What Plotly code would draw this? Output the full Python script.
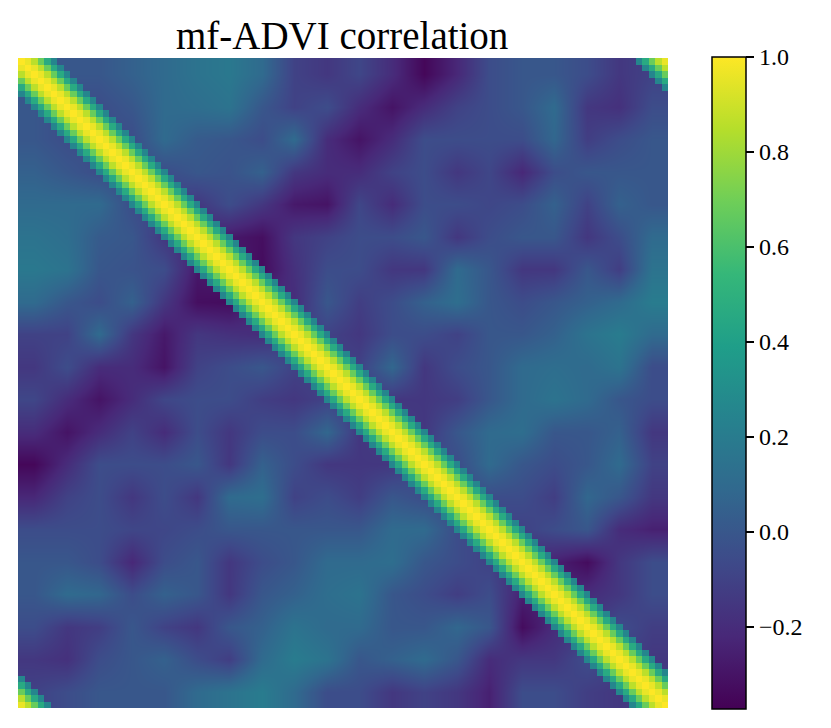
import numpy as np
import plotly.graph_objects as go

# matrix size (100 latent dims) and coarse grid of the smooth background
n_dim = 100
n_coarse = 20

# background correlation on a 20x20 grid
# (upper triangle incl. diagonal, row r holds columns r..19)
upper_rows = [
    [0.0, 0.0, 0.0, 0.05, 0.1, 0.15, 0.18, 0.1, -0.1, -0.15, -0.08, -0.2, -0.35, -0.22, -0.05, 0.0, 0.0, -0.05, -0.15, -0.1],
    [-0.05, -0.05, 0.0, 0.1, 0.12, 0.15, 0.0, -0.1, -0.05, -0.2, -0.3, -0.2, -0.1, -0.05, 0.0, 0.1, -0.15, -0.18, -0.05],
    [-0.05, -0.05, 0.1, 0.02, 0.0, -0.05, 0.1, -0.2, -0.3, -0.2, -0.05, -0.05, -0.05, -0.05, 0.08, -0.12, -0.05, 0.0],
    [-0.05, -0.05, 0.0, -0.02, 0.05, -0.15, -0.2, -0.2, -0.1, -0.05, -0.15, -0.08, -0.22, -0.05, 0.0, 0.0, 0.0],
    [-0.1, -0.15, -0.05, -0.15, -0.28, -0.3, -0.08, -0.2, -0.05, -0.05, -0.08, -0.05, 0.05, -0.1, 0.05, 0.0],
    [-0.2, -0.28, -0.32, -0.15, -0.1, -0.05, -0.05, 0.0, -0.15, -0.05, 0.0, 0.0, -0.15, -0.05, 0.1],
    [-0.25, -0.33, -0.18, -0.05, -0.05, -0.15, -0.15, 0.1, 0.0, -0.15, -0.15, 0.0, -0.12, 0.15],
    [-0.2, -0.2, 0.0, -0.12, -0.05, 0.05, 0.12, 0.0, -0.05, 0.0, 0.05, 0.1, 0.2],
    [-0.1, -0.1, -0.15, -0.05, -0.05, -0.1, 0.0, 0.0, 0.05, 0.15, 0.2, 0.1],
    [-0.1, -0.1, 0.08, -0.15, -0.05, 0.0, 0.1, 0.12, 0.1, 0.15, -0.05],
    [-0.1, -0.15, -0.15, -0.12, 0.0, 0.1, 0.15, 0.1, 0.0, -0.05],
    [-0.1, -0.15, 0.0, 0.1, 0.12, 0.0, 0.0, 0.05, -0.15],
    [-0.05, -0.05, 0.1, 0.0, -0.05, 0.0, 0.1, -0.1],
    [-0.05, -0.05, -0.05, -0.12, 0.08, 0.0, -0.15],
    [-0.1, -0.1, -0.05, 0.0, -0.2, -0.25],
    [-0.2, -0.25, -0.33, -0.15, -0.05],
    [-0.25, -0.2, -0.15, -0.05],
    [-0.15, -0.05, -0.12],
    [-0.1, -0.15],
    [-0.1],
]

# correlation along the (cyclic) diagonal band, by distance from the diagonal
band_profile = [1.0, 0.96, 0.86, 0.68, 0.46, 0.26]

tick_vals = [-0.2, 0.0, 0.2, 0.4, 0.6, 0.8, 1.0]
tick_text = ["\u22120.2", "0.0", "0.2", "0.4", "0.6", "0.8", "1.0"]

# symmetric coarse grid
grid = np.zeros((n_coarse, n_coarse))
for r, row in enumerate(upper_rows):
    for k, v in enumerate(row):
        grid[r, r + k] = v
        grid[r + k, r] = v
step = n_dim // n_coarse
coarse_pos = [step * c + (step - 1) / 2 for c in range(n_coarse)]

# band cells, NaN elsewhere so the background shows through
band = np.full((n_dim, n_dim), np.nan)
for i in range(n_dim):
    for j in range(n_dim):
        d = abs(i - j)
        d = min(d, n_dim - d)
        if d < len(band_profile):
            band[i, j] = band_profile[d]

fig = go.Figure()
fig.add_trace(go.Heatmap(
    x=coarse_pos, y=coarse_pos, z=grid,
    zsmooth="best", coloraxis="coloraxis", hoverinfo="skip"
))
fig.add_trace(go.Heatmap(
    x=list(range(n_dim)), y=list(range(n_dim)), z=band,
    zsmooth=False, coloraxis="coloraxis"
))

# the page adds an 8px body margin, so the figure is 8px smaller on each side
fig.update_layout(
    width=823, height=720,
    margin=dict(l=10, r=163, t=50, b=20),
    paper_bgcolor="white", plot_bgcolor="white",
    font=dict(family="Liberation Serif", color="black"),
    title=dict(
        text="mf-ADVI correlation",
        x=0.406, xanchor="center",
        y=0.943, yanchor="bottom", yref="container",
        font=dict(size=39, family="Liberation Serif", color="black")
    ),
    xaxis=dict(visible=False, range=[-0.5, n_dim - 0.5]),
    yaxis=dict(visible=False, range=[n_dim - 0.5, -0.5]),
    coloraxis=dict(
        colorscale="Viridis", cmin=-0.373, cmax=1.0,
        colorbar=dict(
            x=1.0677, xanchor="left", y=0.5, yanchor="middle",
            len=1.003, lenmode="fraction", thickness=34,
            xpad=0, ypad=0,
            outlinewidth=1.5, outlinecolor="black",
            ticks="outside", ticklen=8, tickwidth=1.5, tickcolor="black",
            tickvals=tick_vals, ticktext=tick_text,
            tickfont=dict(size=24, family="Liberation Serif", color="black")
        )
    ),
)

fig.write_html("out.html")
